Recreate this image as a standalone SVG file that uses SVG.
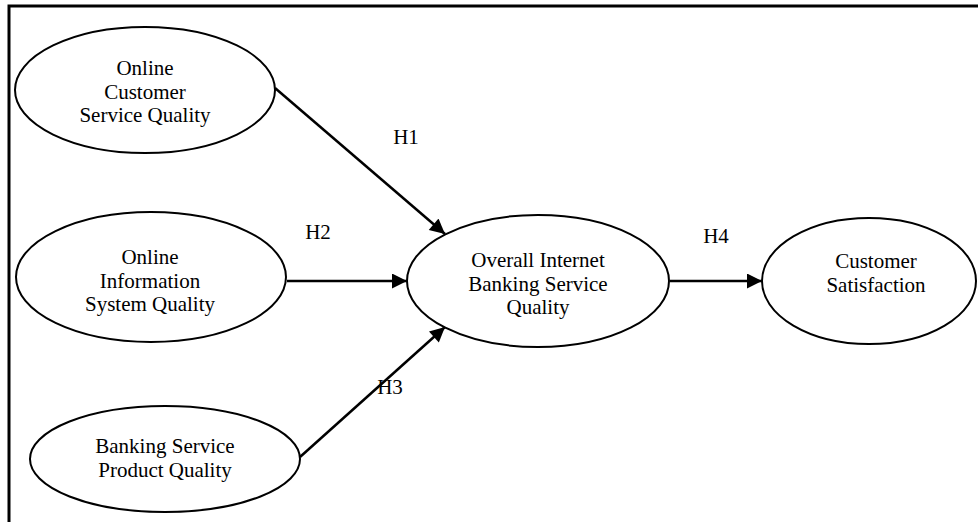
<svg xmlns="http://www.w3.org/2000/svg" width="978" height="522" viewBox="0 0 978 522">
<defs>
<style>
.node ellipse{fill:#fff;stroke:#000;stroke-width:2}
text{font-family:"Liberation Serif","Times New Roman",serif;font-size:21px;fill:#000;text-anchor:middle}
.edge{stroke:#000;stroke-width:2.5;fill:none;marker-end:url(#arr)}
</style>
<marker id="arr" viewBox="0 0 10 10" refX="10" refY="5" markerWidth="6.5" markerHeight="6" markerUnits="strokeWidth" orient="auto">
<path d="M0,0 L10,5 L0,10 z" fill="#000"/>
</marker>
</defs>
<rect width="978" height="522" fill="#fff"/>
<path d="M9,522 V6 H978" fill="none" stroke="#000" stroke-width="3"/>
<g id="connectors">
<line class="edge" x1="275" y1="88" x2="445" y2="234"/>
<line class="edge" x1="287" y1="281" x2="407" y2="281"/>
<line class="edge" x1="300" y1="457" x2="445" y2="327"/>
<line class="edge" x1="670" y1="281" x2="762" y2="281"/>
<text x="406" y="144">H1</text>
<text x="318" y="239">H2</text>
<text x="390" y="394">H3</text>
<text x="716" y="243">H4</text>
</g>
<g id="n1" class="node">
<ellipse cx="145" cy="90" rx="130" ry="63"/>
<text x="145" y="75">Online</text>
<text x="145" y="99">Customer</text>
<text x="145" y="122">Service Quality</text>
</g>
<g id="n2" class="node">
<ellipse cx="151" cy="277" rx="135" ry="65"/>
<text x="150" y="264">Online</text>
<text x="150" y="288">Information</text>
<text x="150" y="311">System Quality</text>
</g>
<g id="n3" class="node">
<ellipse cx="165" cy="459" rx="135" ry="53"/>
<text x="165" y="453">Banking Service</text>
<text x="165" y="477">Product Quality</text>
</g>
<g id="n4" class="node">
<ellipse cx="538" cy="281" rx="131" ry="66"/>
<text x="538" y="267">Overall Internet</text>
<text x="538" y="291">Banking Service</text>
<text x="538" y="314">Quality</text>
</g>
<g id="n5" class="node">
<ellipse cx="869" cy="281" rx="107" ry="63"/>
<text x="876" y="268">Customer</text>
<text x="876" y="292">Satisfaction</text>
</g>
</svg>
